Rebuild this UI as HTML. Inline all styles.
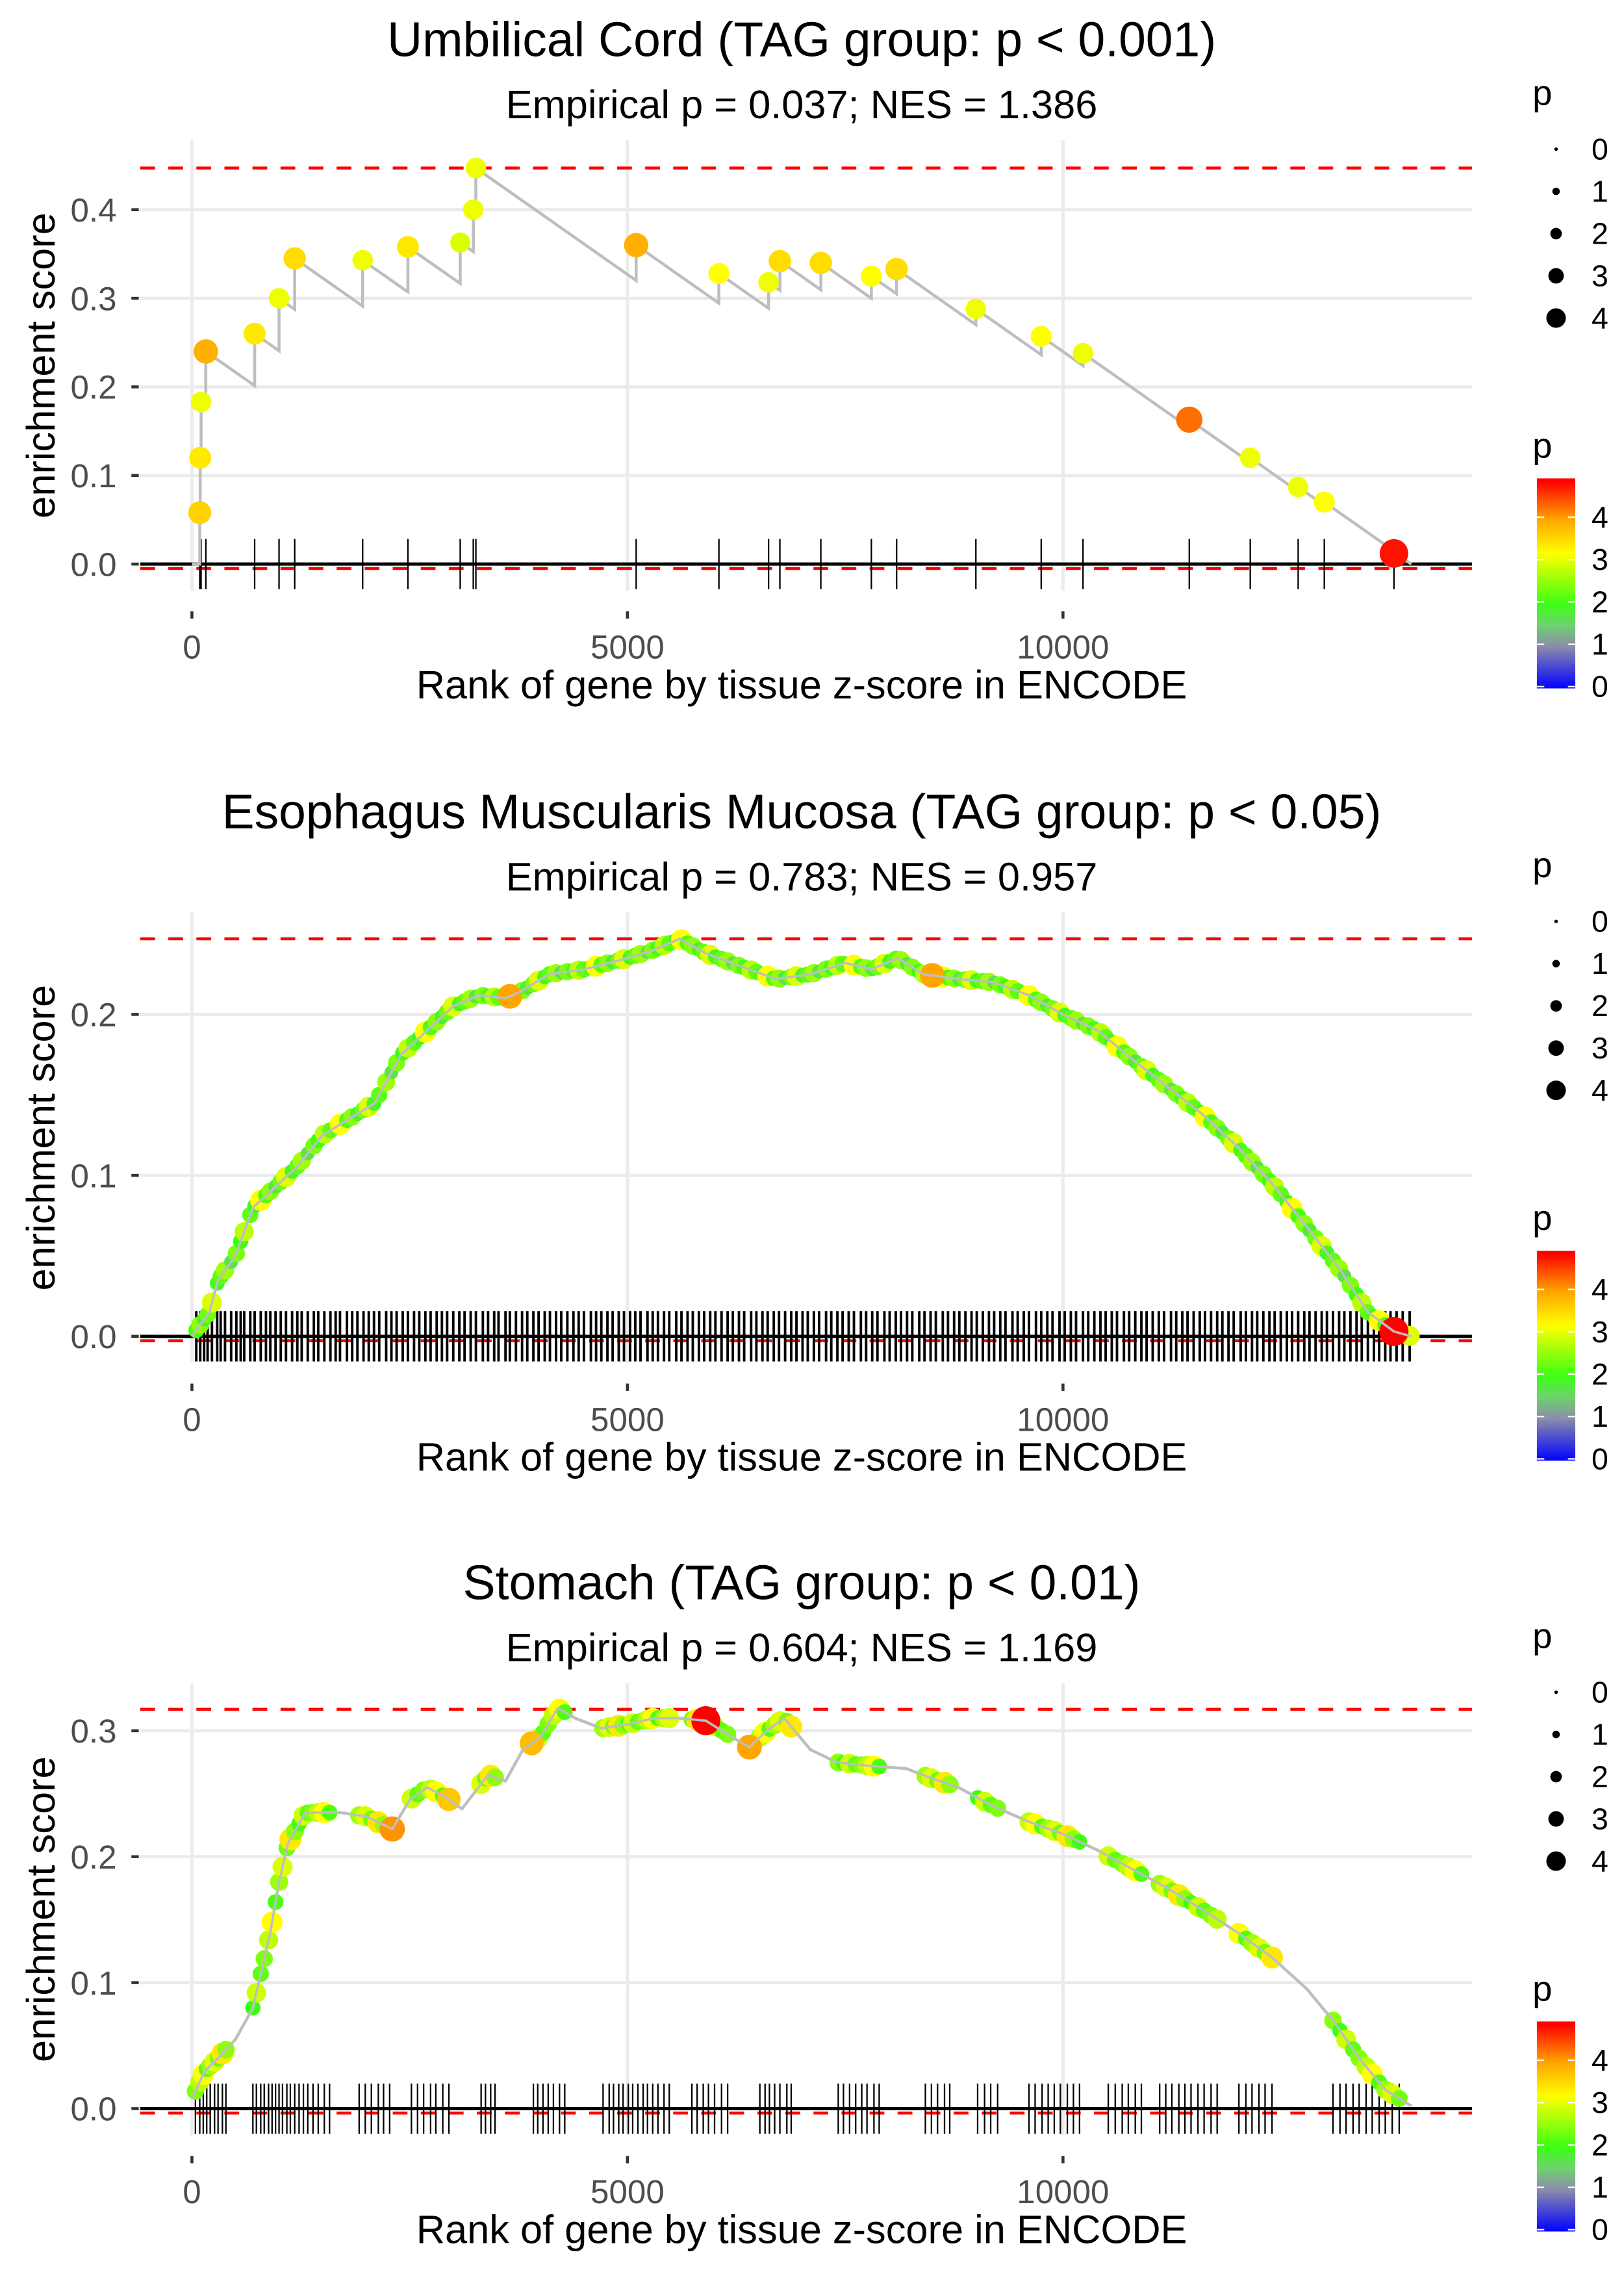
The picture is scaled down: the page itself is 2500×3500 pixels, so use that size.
<!DOCTYPE html>
<html><head><meta charset="utf-8"><style>
html,body{margin:0;padding:0;background:#fff;}
svg{display:block;font-family:"Liberation Sans",sans-serif;}
</style></head><body>
<svg id="chart" width="2500" height="3500" viewBox="0 0 1100 1540" xmlns="http://www.w3.org/2000/svg"></svg>
<script>
// ---------- Panel 1 data (Umbilical Cord) ----------
const p1Ranks = [90,95,105,160,720,1000,1180,1960,2480,3080,3230,3260,5100,6050,6620,6750,7220,7800,8090,9000,9750,10230,11450,12150,12700,13000,13800];
const p1ES    = [0.058,0.12,0.183,0.24,0.26,0.30,0.345,0.343,0.358,0.363,0.40,0.447,0.36,0.328,0.318,0.342,0.34,0.325,0.333,0.288,0.257,0.238,0.163,0.12,0.087,0.07,0.012];
const p1P     = [3.6,3.4,3.1,3.9,3.4,3.1,3.5,3.1,3.4,3.0,3.1,3.1,3.9,3.2,3.1,3.5,3.5,3.2,3.5,3.1,3.2,3.1,4.3,3.1,3.1,3.2,4.8];
// ---------- Panel 2 data (Esophagus Muscularis Mucosa) ----------
const p2CurveRanks = [0,200,300,500,700,900,1200,1500,1800,2100,2400,2700,3000,3300,3600,3800,4100,4500,5000,5300,5600,5900,6300,6700,7100,7500,7800,8100,8400,8800,9200,9600,10000,10400,10800,11200,11600,12000,12400,12800,13200,13500,13800,14000];
const p2CurveES    = [0,0.015,0.035,0.05,0.08,0.09,0.105,0.125,0.135,0.145,0.175,0.19,0.205,0.212,0.21,0.215,0.225,0.228,0.235,0.24,0.247,0.238,0.23,0.222,0.225,0.232,0.228,0.235,0.225,0.222,0.22,0.212,0.2,0.19,0.172,0.155,0.138,0.118,0.095,0.068,0.04,0.015,0.003,0.0];
const p2Hits = [50,95,140,180,230,290,330,380,450,510,560,600,670,720,790,850,900,960,1020,1080,1150,1210,1260,1330,1400,1450,1520,1590,1650,1700,1780,1840,1900,1970,2030,2090,2150,2230,2290,2350,2420,2480,2550,2610,2680,2740,2810,2870,2930,3000,3070,3130,3200,3260,3340,3400,3470,3520,3600,3650,3720,3790,3850,3920,3980,4050,4110,4180,4240,4310,4380,4440,4500,4580,4640,4700,4770,4830,4900,4960,5030,5090,5150,5230,5290,5350,5420,5480,5560,5620,5690,5750,5820,5880,5950,6010,6080,6150,6210,6280,6340,6420,6480,6550,6610,6680,6740,6810,6880,6940,7010,7070,7140,7200,7280,7340,7410,7470,7540,7600,7680,7740,7810,7870,7950,8010,8080,8140,8210,8270,8350,8410,8480,8540,8620,8680,8750,8810,8880,8950,9010,9080,9150,9210,9280,9340,9420,9480,9550,9610,9690,9750,9820,9880,9960,10020,10090,10150,10230,10290,10360,10430,10490,10560,10620,10700,10760,10830,10900,10960,11030,11100,11160,11240,11300,11370,11430,11500,11570,11630,11700,11770,11830,11900,11960,12040,12100,12170,12230,12300,12370,12430,12500,12570,12630,12700,12770,12830,12900,12970,13030,13100,13170,13230,13300,13370,13430,13500,13570,13630,13700,13760,13830,13900,13980];
const p2HitP = [2.1,2.5,1.8,2.3,3.0,1.9,2.2,2.6,1.7,2.4,2.0,2.8,2.2,1.9,3.2];
const p2Big = [[3650,4.0],[8500,4.0],[13800,4.9]];
// ---------- Panel 3 data (Stomach) ----------
const p3CurveRanks = [0,150,300,500,700,800,900,1000,1100,1300,1700,2000,2300,2500,2700,2900,3100,3400,3600,3800,4000,4200,4400,4700,5000,5300,5600,5900,6200,6400,6600,6800,7100,7400,7800,8200,8500,8800,9200,9600,10000,10400,10800,11200,11600,12000,12400,12800,13100,13400,13700,14000];
const p3CurveES    = [0.008,0.03,0.04,0.055,0.08,0.11,0.14,0.18,0.21,0.235,0.235,0.232,0.222,0.245,0.255,0.248,0.238,0.265,0.26,0.285,0.295,0.318,0.31,0.302,0.305,0.31,0.31,0.308,0.295,0.287,0.3,0.31,0.285,0.275,0.272,0.27,0.262,0.255,0.24,0.228,0.218,0.205,0.19,0.175,0.158,0.14,0.12,0.095,0.07,0.04,0.015,0.002];
const p3Hits = [40,90,130,170,210,260,300,350,390,700,740,790,830,880,920,960,1000,1040,1090,1130,1180,1230,1280,1330,1390,1450,1520,1580,1920,1990,2060,2140,2200,2270,2520,2590,2660,2740,2800,2880,2950,3320,3370,3430,3480,3920,3970,4030,4090,4150,4220,4280,4720,4790,4840,4900,4950,5010,5060,5120,5180,5230,5290,5350,5420,5480,5740,5800,5870,5930,6000,6080,6150,6520,6580,6630,6690,6750,6830,6880,7420,7480,7550,7620,7690,7750,7830,7890,8420,8490,8560,8640,8700,9020,9100,9170,9250,9610,9680,9760,9830,9900,9970,10050,10120,10190,10520,10600,10680,10750,10830,10900,11110,11180,11250,11330,11400,11470,11550,11620,11700,11770,12020,12100,12170,12250,12320,12400,13100,13180,13250,13330,13400,13480,13550,13630,13700,13780,13860];
const p3HitP = [2.4,2.8,3.2,2.1,2.6,3.0,2.3,3.4,2.5,2.0,2.9,2.2];
const p3Big = [[2300,4.1],[2950,3.7],[3900,3.8],[5900,4.9],[6400,4.0]];

const NS = "http://www.w3.org/2000/svg";
const svg = document.getElementById('chart');
function mk(tag, attrs, parent, text){
  const e = document.createElementNS(NS, tag);
  for (const k in attrs) e.setAttribute(k, attrs[k]);
  if (text !== undefined) e.textContent = text;
  (parent||svg).appendChild(e);
  return e;
}
function lerp(a,b,t){return a+(b-a)*t;}
const stops=[[0,[0,0,255]],[1,[140,140,170]],[1.5,[110,210,110]],[2,[60,255,20]],[3.2,[255,255,0]],[4,[255,165,0]],[4.9,[255,0,0]]];
function pColor(p){
  if(p<=stops[0][0]) p=stops[0][0];
  for(let i=1;i<stops.length;i++){
    if(p<=stops[i][0]){
      const t=(p-stops[i-1][0])/(stops[i][0]-stops[i-1][0]);
      const a=stops[i-1][1], b=stops[i][1];
      return 'rgb('+Math.round(lerp(a[0],b[0],t))+','+Math.round(lerp(a[1],b[1],t))+','+Math.round(lerp(a[2],b[2],t))+')';
    }
  }
  return 'rgb(255,0,0)';
}
function pRadius(p){return 2+ p*1.6;}
function interp(xs, ys, x){
  if (x<=xs[0]) return ys[0];
  for(let i=1;i<xs.length;i++){ if(x<=xs[i]){const t=(x-xs[i-1])/(xs[i]-xs[i-1]); return lerp(ys[i-1],ys[i],t);} }
  return ys[ys.length-1];
}

function panel(cfg){
  const g = mk('g',{},svg);
  
  
  const X = r => 130 + r*0.059;
  const Y = v => cfg.y0 - v*cfg.k;
  const L=95, R=997;
  [0,5000,10000].forEach(t=>{ mk('line',{x1:X(t),x2:X(t),y1:cfg.top,y2:cfg.bot,stroke:'#ebebeb','stroke-width':2.2},g); });
  cfg.yt.forEach(t=>{ mk('line',{x1:L,x2:R,y1:Y(t),y2:Y(t),stroke:'#ebebeb','stroke-width':2.2},g); });
  const tt=mk('text',{x:543,y:cfg.titleY,'text-anchor':'middle','font-size':33,fill:'#000'},g,cfg.title);
  
  
  const st=mk('text',{x:543,y:cfg.titleY+42,'text-anchor':'middle','font-size':27,fill:'#000'},g,cfg.sub);
  
  
  cfg.yt.forEach(t=>{
    mk('line',{x1:89,x2:94,y1:Y(t),y2:Y(t),stroke:'#333','stroke-width':2},g);
    const lb=mk('text',{x:79,y:Y(t)+8,'text-anchor':'end','font-size':22.5,fill:'#4d4d4d'},g,t.toFixed(1));
    
    
  });
  const yl=mk('text',{x:0,y:0,'text-anchor':'middle','font-size':27,fill:'#000',transform:'translate(37,'+((cfg.top+cfg.bot)/2)+') rotate(-90)'},g,'enrichment score');
  
  
  [0,5000,10000].forEach(t=>{
    mk('line',{x1:X(t),x2:X(t),y1:cfg.bot+14,y2:cfg.bot+19,stroke:'#333','stroke-width':2},g);
    const lb=mk('text',{x:X(t),y:cfg.bot+46,'text-anchor':'middle','font-size':22.5,fill:'#4d4d4d'},g,String(t));
    
    
  });
  const xl=mk('text',{x:543,y:cfg.bot+73,'text-anchor':'middle','font-size':27,fill:'#000'},g,'Rank of gene by tissue z-score in ENCODE');
  
  
  mk('line',{x1:L,x2:R,y1:Y(cfg.maxES),y2:Y(cfg.maxES),stroke:'#ff0000','stroke-width':2,'stroke-dasharray':'10 9'},g);
  mk('line',{x1:L,x2:R,y1:Y(0),y2:Y(0),stroke:'#000','stroke-width':2.2},g);
  mk('line',{x1:L,x2:R,y1:Y(0)+3,y2:Y(0)+3,stroke:'#ff0000','stroke-width':2,'stroke-dasharray':'10 9'},g);
  const rug=mk('g',{},g);
  
  
  cfg.hits.forEach(r=>{ mk('line',{x1:X(r),x2:X(r),y1:Y(0)-17,y2:Y(0)+17,stroke:'#000','stroke-width':cfg.rugW||1},rug); });
  const pts=[];
  cfg.curve.forEach(([r,v])=>pts.push(X(r).toFixed(1)+','+Y(v).toFixed(1)));
  const ln=mk('polyline',{points:pts.join(' '),fill:'none',stroke:'#bebebe','stroke-width':2},g);
  
  
  const dg=mk('g',{},g);
  
  
  cfg.dots.forEach(([r,v,p])=>{
    const c=mk('circle',{cx:X(r),cy:Y(v),r:pRadius(p),fill:pColor(p)},dg);
    
    
  });
  if(cfg.lineOnTop) mk('polyline',{points:pts.join(' '),fill:'none',stroke:'#bebebe','stroke-width':1.6},g);
  const lg=mk('g',{},g);
  
  
  mk('text',{x:1038,y:cfg.titleY+33,'font-size':24,fill:'#000'},lg,'p');
  [0,1,2,3,4].forEach((v,i)=>{
    const yy=cfg.titleY+63+i*28.6;
    mk('circle',{cx:1054,cy:yy,r:1.2+v*1.35,fill:'#000'},lg);
    mk('text',{x:1078,y:yy+7,'font-size':20.5,fill:'#000'},lg,String(v));
  });
  const cl=mk('g',{},g);
  
  
  const by=cfg.titleY+286;
  mk('text',{x:1038,y:by-14,'font-size':24,fill:'#000'},cl,'p');
  const bh=142, pMax=4.95;
  for(let i=0;i<bh;i++){
    const p=pMax*(1-i/bh);
    mk('rect',{x:1041,y:by+i,width:26,height:1.2,fill:pColor(p)},cl);
  }
  [0,1,2,3,4].forEach(v=>{
    const yy=by+bh*(1-v/pMax)-1;
    mk('line',{x1:1041,x2:1046,y1:yy,y2:yy,stroke:'#fff','stroke-width':1},cl);
    mk('line',{x1:1062,x2:1067,y1:yy,y2:yy,stroke:'#fff','stroke-width':1},cl);
    mk('text',{x:1078,y:yy+7,'font-size':20.5,fill:'#000'},cl,String(v));
  });
}

const slope1 = 6.9e-5;
const c1=[[0,0],[p1Ranks[0],0]], d1=[];
for(let i=0;i<p1Ranks.length;i++){
  if(i>0){ const pre=p1ES[i-1]-slope1*(p1Ranks[i]-p1Ranks[i-1]); c1.push([p1Ranks[i],Math.max(pre,p1ES[i]-0.06)]); }
  c1.push([p1Ranks[i],p1ES[i]]);
  d1.push([p1Ranks[i],p1ES[i],p1P[i]]);
}
c1.push([14000,0]);
panel({name:'panel-umbilical-cord',title:'Umbilical Cord (TAG group: p < 0.001)',sub:'Empirical p = 0.037; NES = 1.386',titleY:38,top:95,bot:400,y0:382,k:600,yt:[0,0.1,0.2,0.3,0.4],maxES:0.447,hits:p1Ranks,curve:c1,dots:d1});

function denseDots(hits,hp,cr,ce,big){
  const d=hits.map((r,i)=>[r,interp(cr,ce,r),hp[i%hp.length]]);
  big.forEach(([r,p])=>d.push([r,interp(cr,ce,r),p]));
  return d;
}
panel({name:'panel-esophagus',title:'Esophagus Muscularis Mucosa (TAG group: p < 0.05)',sub:'Empirical p = 0.783; NES = 0.957',titleY:561,top:618,bot:923,y0:905,k:1090,yt:[0,0.1,0.2],maxES:0.247,hits:p2Hits,rugW:1.7,curve:p2CurveRanks.map((r,i)=>[r,p2CurveES[i]]),dots:denseDots(p2Hits,p2HitP,p2CurveRanks,p2CurveES,p2Big),lineOnTop:true});
panel({name:'panel-stomach',title:'Stomach (TAG group: p < 0.01)',sub:'Empirical p = 0.604; NES = 1.169',titleY:1083,top:1140,bot:1446,y0:1428,k:853,yt:[0,0.1,0.2,0.3],maxES:0.317,hits:p3Hits,curve:p3CurveRanks.map((r,i)=>[r,p3CurveES[i]]),dots:denseDots(p3Hits,p3HitP,p3CurveRanks,p3CurveES,p3Big),lineOnTop:true});
</script>
</body></html>
